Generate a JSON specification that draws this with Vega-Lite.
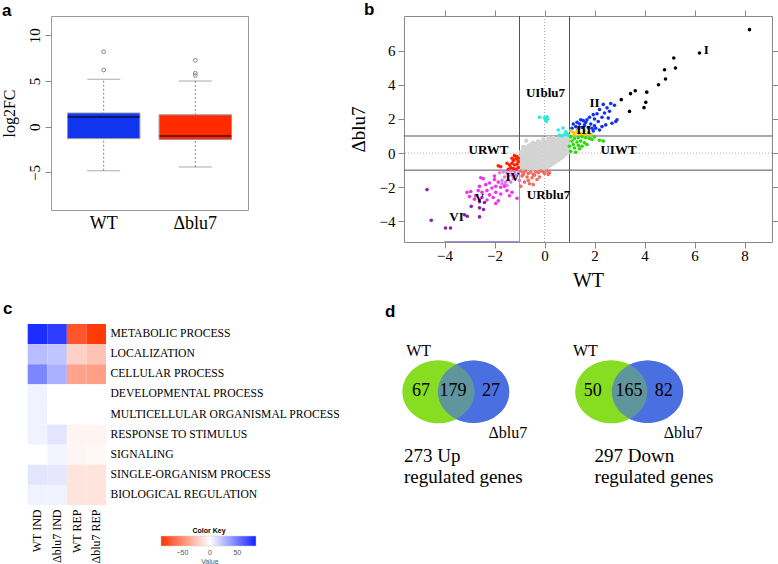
{
"$schema": "https://vega.github.io/schema/vega-lite/v6.json",
"background": "white",
"padding": {"left": 0, "top": 0, "right": 0, "bottom": 0},
"config": {
  "font": "Liberation Serif",
  "view": {"stroke": null},
  "axis": {"labelFont": "Liberation Serif", "titleFont": "Liberation Serif", "labelColor": "black", "titleColor": "black", "titleFontWeight": "normal", "grid": false, "domain": false, "tickColor": "#888888", "labelFlush": false, "labelOverlap": false},
  "title": {"font": "Liberation Sans", "fontWeight": "bold", "fontSize": 17, "anchor": "start", "frame": "group", "baseline": "alphabetic", "offset": 0, "color": "black"}
},
"resolve": {"scale": {"color": "independent"}, "legend": {"color": "independent"}},
"bounds": "flush",
"columns": 2,
"spacing": {"row": 82, "column": 156},
"concat": [
 {
  "width": 197, "height": 194,
  "view": {"stroke": "#999999"},
  "title": {"text": "a", "dx": -49, "dy": 8},
  "data": {"values": [
    {"group": "WT", "lower": -4.8, "q1": -1.3, "median": 1.05, "q3": 1.5, "upper": 5.2},
    {"group": "Δblu7", "lower": -4.4, "q1": -1.4, "median": -1.0, "q3": 1.3, "upper": 5.0}
  ]},
  "encoding": {
    "x": {"field": "group", "type": "nominal", "sort": ["WT", "Δblu7"], "scale": {"paddingInner": 0.21, "paddingOuter": 0.18}, "axis": {"title": null, "labelAngle": 0, "labelFontSize": 18, "ticks": false, "labelPadding": 4}}
  },
  "layer": [
    {"mark": {"type": "rule", "color": "#888888", "strokeDash": [2, 2], "strokeWidth": 1},
     "encoding": {"y": {"field": "lower", "type": "quantitative", "scale": {"domain": [-9.1, 12.1], "nice": false, "zero": false}, "axis": {"title": "log2FC", "values": [-5, 0, 5, 10], "labelAngle": 270, "labelFontSize": 15, "tickSize": 6, "labelPadding": 3, "titleFontSize": 16, "titlePadding": 10}}, "y2": {"field": "upper"}}},
    {"mark": {"type": "bar", "stroke": "#999999", "strokeWidth": 1},
     "encoding": {"y": {"field": "q1", "type": "quantitative"}, "y2": {"field": "q3"}, "color": {"field": "group", "type": "nominal", "scale": {"domain": ["WT", "Δblu7"], "range": ["#1236f0", "#ff2a00"]}, "legend": null}}},
    {"mark": {"type": "tick", "color": "#888888", "size": 33, "thickness": 1}, "encoding": {"y": {"field": "upper", "type": "quantitative"}}},
    {"mark": {"type": "tick", "color": "#888888", "size": 33, "thickness": 1}, "encoding": {"y": {"field": "lower", "type": "quantitative"}}},
    {"mark": {"type": "tick", "color": "black", "size": 72, "thickness": 1.5}, "encoding": {"y": {"field": "median", "type": "quantitative"}}},
    {"data": {"values": [
       {"group": "WT", "log2FC": 8.2}, {"group": "WT", "log2FC": 6.2},
       {"group": "Δblu7", "log2FC": 7.25}, {"group": "Δblu7", "log2FC": 5.85}, {"group": "Δblu7", "log2FC": 5.6}
     ]},
     "mark": {"type": "point", "shape": "circle", "color": "#888888", "size": 14, "strokeWidth": 1, "filled": false, "opacity": 1},
     "encoding": {"y": {"field": "log2FC", "type": "quantitative"}}}
  ]
 },
 {
  "width": 368, "height": 226,
  "view": {"stroke": "#888888"},
  "title": {"text": "b", "dx": -40, "dy": 13},
  "resolve": {"axis": {"x": "independent", "y": "independent"}},
  "layer": [
    {"data": {"values": [{"x": -1}, {"x": 1}]},
     "mark": {"type": "rule", "color": "#555555", "strokeWidth": 1},
     "encoding": {"x": {"field": "x", "type": "quantitative", "scale": {"domain": [-5.62, 9.1], "nice": false, "zero": false}, "axis": {"orient": "top", "values": [-4, -2, 0, 2, 4, 6, 8], "labels": false, "tickSize": 6, "title": null}}}},
    {"data": {"values": [{"x": 0}]},
     "mark": {"type": "rule", "color": "#aaaaaa", "strokeWidth": 1, "strokeDash": [1, 2]},
     "encoding": {"x": {"field": "x", "type": "quantitative", "scale": {"domain": [-5.62, 9.1], "nice": false, "zero": false}, "axis": null}}},
    {"data": {"values": [{"y": -1}, {"y": 1}]},
     "mark": {"type": "rule", "color": "#555555", "strokeWidth": 1},
     "encoding": {"y": {"field": "y", "type": "quantitative", "scale": {"domain": [-5.21, 8.03], "nice": false, "zero": false}, "axis": {"orient": "right", "values": [-4, -2, 0, 2, 4, 6], "labels": false, "tickSize": 6, "title": null}}}},
    {"data": {"values": [{"y": 0}]},
     "mark": {"type": "rule", "color": "#aaaaaa", "strokeWidth": 1, "strokeDash": [1, 2]},
     "encoding": {"y": {"field": "y", "type": "quantitative", "scale": {"domain": [-5.21, 8.03], "nice": false, "zero": false}, "axis": null}}},
    {"data": {"values": [{"x": -1, "x2": -1, "y": -1, "y2": -5.21}, {"x": -4.0, "x2": -1, "y": -5.18, "y2": -5.18}, {"x": 0.4, "x2": 1, "y": 1, "y2": 1}]},
     "mark": {"type": "rule", "color": "#a38ce6", "strokeWidth": 1},
     "encoding": {"x": {"field": "x", "type": "quantitative", "scale": {"domain": [-5.62, 9.1], "nice": false, "zero": false}, "axis": null}, "x2": {"field": "x2"},
                  "y": {"field": "y", "type": "quantitative", "scale": {"domain": [-5.21, 8.03], "nice": false, "zero": false}, "axis": null}, "y2": {"field": "y2"}}},
    {"data": {"values": [
{"x":-0.95,"y":-0.95,"g":"ns"},{"x":-0.95,"y":-0.7,"g":"ns"},{"x":-0.95,"y":-0.45,"g":"ns"},{"x":-0.95,"y":-0.2,"g":"ns"},{"x":-0.95,"y":0.05,"g":"ns"},
{"x":-0.85,"y":-0.85,"g":"ns"},{"x":-0.85,"y":-0.6,"g":"ns"},{"x":-0.85,"y":-0.35,"g":"ns"},{"x":-0.85,"y":-0.1,"g":"ns"},{"x":-0.85,"y":0.15,"g":"ns"},{"x":-0.85,"y":0.35,"g":"ns"},
{"x":-0.75,"y":-0.95,"g":"ns"},{"x":-0.75,"y":-0.7,"g":"ns"},{"x":-0.75,"y":-0.45,"g":"ns"},{"x":-0.75,"y":-0.2,"g":"ns"},{"x":-0.75,"y":0.05,"g":"ns"},{"x":-0.75,"y":0.3,"g":"ns"},{"x":-0.73,"y":0.72,"g":"ns"},
{"x":-0.65,"y":-0.85,"g":"ns"},{"x":-0.65,"y":-0.6,"g":"ns"},{"x":-0.65,"y":-0.35,"g":"ns"},{"x":-0.65,"y":-0.1,"g":"ns"},{"x":-0.65,"y":0.15,"g":"ns"},{"x":-0.65,"y":0.4,"g":"ns"},
{"x":-0.55,"y":-0.95,"g":"ns"},{"x":-0.55,"y":-0.7,"g":"ns"},{"x":-0.55,"y":-0.45,"g":"ns"},{"x":-0.55,"y":-0.2,"g":"ns"},{"x":-0.55,"y":0.05,"g":"ns"},{"x":-0.55,"y":0.3,"g":"ns"},{"x":-0.55,"y":0.5,"g":"ns"},
{"x":-0.45,"y":-0.85,"g":"ns"},{"x":-0.45,"y":-0.6,"g":"ns"},{"x":-0.45,"y":-0.35,"g":"ns"},{"x":-0.45,"y":-0.1,"g":"ns"},{"x":-0.45,"y":0.15,"g":"ns"},{"x":-0.45,"y":0.4,"g":"ns"},{"x":-0.45,"y":0.6,"g":"ns"},
{"x":-0.35,"y":-0.95,"g":"ns"},{"x":-0.35,"y":-0.7,"g":"ns"},{"x":-0.35,"y":-0.45,"g":"ns"},{"x":-0.35,"y":-0.2,"g":"ns"},{"x":-0.35,"y":0.05,"g":"ns"},{"x":-0.35,"y":0.3,"g":"ns"},{"x":-0.35,"y":0.55,"g":"ns"},
{"x":-0.25,"y":-0.8,"g":"ns"},{"x":-0.25,"y":-0.55,"g":"ns"},{"x":-0.25,"y":-0.3,"g":"ns"},{"x":-0.25,"y":-0.05,"g":"ns"},{"x":-0.25,"y":0.2,"g":"ns"},{"x":-0.25,"y":0.45,"g":"ns"},{"x":-0.25,"y":0.7,"g":"ns"},
{"x":-0.15,"y":-0.9,"g":"ns"},{"x":-0.15,"y":-0.65,"g":"ns"},{"x":-0.15,"y":-0.4,"g":"ns"},{"x":-0.15,"y":-0.15,"g":"ns"},{"x":-0.15,"y":0.1,"g":"ns"},{"x":-0.15,"y":0.35,"g":"ns"},{"x":-0.15,"y":0.6,"g":"ns"},
{"x":-0.05,"y":-0.95,"g":"ns"},{"x":-0.05,"y":-0.7,"g":"ns"},{"x":-0.05,"y":-0.45,"g":"ns"},{"x":-0.05,"y":-0.2,"g":"ns"},{"x":-0.05,"y":0.05,"g":"ns"},{"x":-0.05,"y":0.3,"g":"ns"},{"x":-0.05,"y":0.55,"g":"ns"},{"x":-0.05,"y":0.8,"g":"ns"},
{"x":0.05,"y":-0.85,"g":"ns"},{"x":0.05,"y":-0.6,"g":"ns"},{"x":0.05,"y":-0.35,"g":"ns"},{"x":0.05,"y":-0.1,"g":"ns"},{"x":0.05,"y":0.15,"g":"ns"},{"x":0.05,"y":0.4,"g":"ns"},{"x":0.05,"y":0.65,"g":"ns"},
{"x":0.15,"y":-0.8,"g":"ns"},{"x":0.15,"y":-0.55,"g":"ns"},{"x":0.15,"y":-0.3,"g":"ns"},{"x":0.15,"y":-0.05,"g":"ns"},{"x":0.15,"y":0.2,"g":"ns"},{"x":0.15,"y":0.45,"g":"ns"},{"x":0.15,"y":0.7,"g":"ns"},{"x":0.15,"y":0.9,"g":"ns"},
{"x":0.25,"y":-0.7,"g":"ns"},{"x":0.25,"y":-0.45,"g":"ns"},{"x":0.25,"y":-0.2,"g":"ns"},{"x":0.25,"y":0.05,"g":"ns"},{"x":0.25,"y":0.3,"g":"ns"},{"x":0.25,"y":0.55,"g":"ns"},{"x":0.25,"y":0.8,"g":"ns"},
{"x":0.35,"y":-0.6,"g":"ns"},{"x":0.35,"y":-0.35,"g":"ns"},{"x":0.35,"y":-0.1,"g":"ns"},{"x":0.35,"y":0.15,"g":"ns"},{"x":0.35,"y":0.4,"g":"ns"},{"x":0.35,"y":0.65,"g":"ns"},{"x":0.35,"y":0.9,"g":"ns"},
{"x":0.45,"y":-0.5,"g":"ns"},{"x":0.45,"y":-0.25,"g":"ns"},{"x":0.45,"y":0.0,"g":"ns"},{"x":0.45,"y":0.25,"g":"ns"},{"x":0.45,"y":0.5,"g":"ns"},{"x":0.45,"y":0.75,"g":"ns"},
{"x":0.55,"y":-0.4,"g":"ns"},{"x":0.55,"y":-0.15,"g":"ns"},{"x":0.55,"y":0.1,"g":"ns"},{"x":0.55,"y":0.35,"g":"ns"},{"x":0.55,"y":0.6,"g":"ns"},{"x":0.55,"y":0.85,"g":"ns"},
{"x":0.65,"y":-0.3,"g":"ns"},{"x":0.65,"y":-0.05,"g":"ns"},{"x":0.65,"y":0.2,"g":"ns"},{"x":0.65,"y":0.45,"g":"ns"},{"x":0.65,"y":0.7,"g":"ns"},{"x":0.65,"y":0.95,"g":"ns"},
{"x":0.75,"y":-0.2,"g":"ns"},{"x":0.75,"y":0.05,"g":"ns"},{"x":0.75,"y":0.3,"g":"ns"},{"x":0.75,"y":0.55,"g":"ns"},{"x":0.75,"y":0.8,"g":"ns"},
{"x":0.85,"y":-0.05,"g":"ns"},{"x":0.85,"y":0.2,"g":"ns"},{"x":0.85,"y":0.45,"g":"ns"},{"x":0.85,"y":0.7,"g":"ns"},{"x":0.85,"y":0.95,"g":"ns"},
{"x":0.95,"y":0.05,"g":"ns"},{"x":0.95,"y":0.3,"g":"ns"},{"x":0.95,"y":0.55,"g":"ns"},{"x":0.95,"y":0.8,"g":"ns"},
{"x":8.2,"y":7.23,"g":"I"},{"x":6.2,"y":5.86,"g":"I"},{"x":5.17,"y":5.57,"g":"I"},{"x":5.24,"y":4.98,"g":"I"},{"x":4.8,"y":4.88,"g":"I"},{"x":4.84,"y":4.34,"g":"I"},{"x":4.56,"y":4.0,"g":"I"},{"x":4.09,"y":3.57,"g":"I"},{"x":3.63,"y":3.65,"g":"I"},{"x":3.44,"y":3.48,"g":"I"},{"x":4.05,"y":2.97,"g":"I"},{"x":3.98,"y":2.66,"g":"I"},{"x":3.4,"y":2.44,"g":"I"},{"x":3.07,"y":3.13,"g":"I"},
{"x":2.35,"y":2.85,"g":"II"},{"x":2.65,"y":2.9,"g":"II"},{"x":2.8,"y":2.8,"g":"II"},{"x":2.5,"y":2.65,"g":"II"},{"x":2.6,"y":2.45,"g":"II"},{"x":2.2,"y":2.55,"g":"II"},{"x":2.4,"y":2.35,"g":"II"},{"x":2.85,"y":1.85,"g":"II"},{"x":2.7,"y":1.75,"g":"II"},{"x":2.9,"y":1.95,"g":"II"},{"x":2.1,"y":2.3,"g":"II"},{"x":2.3,"y":2.1,"g":"II"},{"x":1.95,"y":2.25,"g":"II"},{"x":2.0,"y":2.0,"g":"II"},{"x":1.8,"y":2.1,"g":"II"},{"x":1.7,"y":1.95,"g":"II"},{"x":2.15,"y":1.85,"g":"II"},{"x":1.55,"y":1.9,"g":"II"},{"x":1.3,"y":1.8,"g":"II"},{"x":1.15,"y":1.7,"g":"II"},{"x":1.4,"y":1.7,"g":"II"},{"x":1.6,"y":1.65,"g":"II"},{"x":1.85,"y":1.7,"g":"II"},{"x":2.0,"y":1.6,"g":"II"},{"x":2.3,"y":1.55,"g":"II"},{"x":1.25,"y":1.55,"g":"II"},{"x":1.5,"y":1.5,"g":"II"},{"x":1.75,"y":1.5,"g":"II"},{"x":2.05,"y":1.45,"g":"II"},{"x":2.2,"y":1.35,"g":"II"},{"x":1.1,"y":1.45,"g":"II"},{"x":1.35,"y":1.4,"g":"II"},{"x":1.95,"y":1.3,"g":"II"},{"x":2.45,"y":1.65,"g":"II"},{"x":2.55,"y":2.05,"g":"II"},{"x":1.65,"y":1.8,"g":"II"},{"x":1.45,"y":1.95,"g":"II"},{"x":1.9,"y":1.45,"g":"II"},
{"x":1.15,"y":1.2,"g":"III"},{"x":1.3,"y":1.25,"g":"III"},{"x":1.45,"y":1.15,"g":"III"},{"x":1.6,"y":1.3,"g":"III"},{"x":1.75,"y":1.2,"g":"III"},{"x":1.2,"y":1.05,"g":"III"},{"x":1.4,"y":1.05,"g":"III"},{"x":1.55,"y":1.1,"g":"III"},{"x":1.85,"y":1.1,"g":"III"},{"x":1.35,"y":1.35,"g":"III"},{"x":1.65,"y":1.05,"g":"III"},{"x":1.05,"y":1.3,"g":"III"},
{"x":1.05,"y":0.95,"g":"UIWT"},{"x":1.2,"y":0.85,"g":"UIWT"},{"x":1.35,"y":0.9,"g":"UIWT"},{"x":1.5,"y":0.95,"g":"UIWT"},{"x":1.65,"y":0.9,"g":"UIWT"},{"x":1.8,"y":0.85,"g":"UIWT"},{"x":2.0,"y":0.95,"g":"UIWT"},{"x":2.2,"y":0.75,"g":"UIWT"},{"x":2.35,"y":0.7,"g":"UIWT"},{"x":1.1,"y":0.7,"g":"UIWT"},{"x":1.3,"y":0.65,"g":"UIWT"},{"x":1.45,"y":0.7,"g":"UIWT"},{"x":1.6,"y":0.6,"g":"UIWT"},{"x":1.15,"y":0.5,"g":"UIWT"},{"x":1.35,"y":0.45,"g":"UIWT"},{"x":1.5,"y":0.4,"g":"UIWT"},{"x":1.2,"y":0.3,"g":"UIWT"},{"x":1.4,"y":0.25,"g":"UIWT"},{"x":1.05,"y":0.1,"g":"UIWT"},{"x":1.25,"y":0.05,"g":"UIWT"},{"x":1.0,"y":0.4,"g":"UIWT"},{"x":1.7,"y":0.5,"g":"UIWT"},{"x":1.9,"y":0.8,"g":"UIWT"},
{"x":-0.2,"y":2.1,"g":"UIblu7"},{"x":0.0,"y":2.06,"g":"UIblu7"},{"x":0.07,"y":1.86,"g":"UIblu7"},{"x":0.12,"y":2.0,"g":"UIblu7"},{"x":0.05,"y":1.95,"g":"UIblu7"},{"x":0.1,"y":2.12,"g":"UIblu7"},{"x":0.74,"y":1.47,"g":"UIblu7"},{"x":0.8,"y":1.08,"g":"UIblu7"},{"x":0.9,"y":1.15,"g":"UIblu7"},{"x":0.95,"y":1.05,"g":"UIblu7"},{"x":0.7,"y":1.0,"g":"UIblu7"},{"x":0.6,"y":1.05,"g":"UIblu7"},{"x":0.85,"y":1.25,"g":"UIblu7"},{"x":0.55,"y":1.35,"g":"UIblu7"},
{"x":-1.45,"y":-0.95,"g":"URWT"},{"x":-1.35,"y":-0.85,"g":"URWT"},{"x":-1.25,"y":-0.9,"g":"URWT"},{"x":-1.15,"y":-0.95,"g":"URWT"},{"x":-1.05,"y":-0.85,"g":"URWT"},{"x":-1.4,"y":-0.7,"g":"URWT"},{"x":-1.3,"y":-0.6,"g":"URWT"},{"x":-1.2,"y":-0.7,"g":"URWT"},{"x":-1.1,"y":-0.65,"g":"URWT"},{"x":-1.05,"y":-0.5,"g":"URWT"},{"x":-1.25,"y":-0.45,"g":"URWT"},{"x":-1.15,"y":-0.35,"g":"URWT"},{"x":-1.1,"y":-0.2,"g":"URWT"},{"x":-1.2,"y":-0.15,"g":"URWT"},{"x":-1.5,"y":-0.6,"g":"URWT"},{"x":-1.85,"y":-0.75,"g":"URWT"},{"x":-1.75,"y":-0.8,"g":"URWT"},{"x":-1.35,"y":-1.0,"g":"URWT"},{"x":-1.05,"y":-0.3,"g":"URWT"},{"x":-1.3,"y":-0.3,"g":"URWT"},
{"x":-0.95,"y":-1.05,"g":"URblu7"},{"x":-0.85,"y":-1.15,"g":"URblu7"},{"x":-0.75,"y":-1.05,"g":"URblu7"},{"x":-0.65,"y":-1.2,"g":"URblu7"},{"x":-0.55,"y":-1.1,"g":"URblu7"},{"x":-0.45,"y":-1.25,"g":"URblu7"},{"x":-0.35,"y":-1.1,"g":"URblu7"},{"x":-0.25,"y":-1.15,"g":"URblu7"},{"x":-0.15,"y":-1.05,"g":"URblu7"},{"x":-0.05,"y":-1.1,"g":"URblu7"},{"x":0.1,"y":-1.05,"g":"URblu7"},{"x":0.2,"y":-1.15,"g":"URblu7"},{"x":-0.9,"y":-1.35,"g":"URblu7"},{"x":-0.7,"y":-1.4,"g":"URblu7"},{"x":-0.5,"y":-1.45,"g":"URblu7"},{"x":-0.3,"y":-1.55,"g":"URblu7"},{"x":-0.6,"y":-1.8,"g":"URblu7"},{"x":-0.8,"y":-1.7,"g":"URblu7"},{"x":-0.45,"y":-1.85,"g":"URblu7"},{"x":-0.95,"y":-1.95,"g":"URblu7"},{"x":-0.2,"y":-1.4,"g":"URblu7"},{"x":-0.65,"y":-1.6,"g":"URblu7"},{"x":-0.85,"y":-1.25,"g":"URblu7"},{"x":-0.4,"y":-1.3,"g":"URblu7"},{"x":0.0,"y":-1.2,"g":"URblu7"},{"x":0.15,"y":-1.25,"g":"URblu7"},
{"x":-1.2,"y":-1.1,"g":"IV"},{"x":-1.35,"y":-1.05,"g":"IV"},{"x":-1.5,"y":-1.15,"g":"IV"},{"x":-1.65,"y":-1.1,"g":"IV"},{"x":-1.8,"y":-1.15,"g":"IV"},{"x":-1.3,"y":-1.3,"g":"IV"},{"x":-1.45,"y":-1.35,"g":"IV"},{"x":-1.6,"y":-1.4,"g":"IV"},{"x":-1.7,"y":-1.6,"g":"IV"},{"x":-1.55,"y":-1.7,"g":"IV"},{"x":-1.6,"y":-1.85,"g":"IV"},{"x":-1.45,"y":-1.55,"g":"IV"},{"x":-1.25,"y":-1.5,"g":"IV"},{"x":-1.15,"y":-1.3,"g":"IV"},{"x":-1.05,"y":-1.15,"g":"IV"},{"x":-1.7,"y":-1.8,"g":"IV"},{"x":-1.5,"y":-1.9,"g":"IV"},{"x":-1.35,"y":-1.7,"g":"IV"},{"x":-1.0,"y":-1.6,"g":"IV"},
{"x":-2.0,"y":-1.35,"g":"V"},{"x":-2.55,"y":-1.45,"g":"V"},{"x":-2.45,"y":-1.5,"g":"V"},{"x":-2.0,"y":-1.55,"g":"V"},{"x":-1.85,"y":-1.7,"g":"V"},{"x":-2.2,"y":-1.75,"g":"V"},{"x":-2.35,"y":-1.85,"g":"V"},{"x":-2.6,"y":-1.95,"g":"V"},{"x":-1.95,"y":-1.95,"g":"V"},{"x":-1.75,"y":-2.0,"g":"V"},{"x":-2.1,"y":-2.05,"g":"V"},{"x":-2.95,"y":-2.25,"g":"V"},{"x":-3.1,"y":-2.3,"g":"V"},{"x":-2.5,"y":-2.3,"g":"V"},{"x":-2.3,"y":-2.2,"g":"V"},{"x":-1.95,"y":-2.3,"g":"V"},{"x":-1.75,"y":-2.4,"g":"V"},{"x":-2.2,"y":-2.45,"g":"V"},{"x":-2.75,"y":-2.5,"g":"V"},{"x":-3.0,"y":-2.55,"g":"V"},{"x":-2.5,"y":-2.6,"g":"V"},{"x":-2.05,"y":-2.6,"g":"V"},{"x":-1.85,"y":-2.8,"g":"V"},{"x":-2.3,"y":-2.75,"g":"V"},{"x":-1.95,"y":-2.95,"g":"V"},{"x":-1.1,"y":-2.65,"g":"V"},{"x":-1.3,"y":-2.3,"g":"V"},{"x":-1.5,"y":-2.2,"g":"V"},{"x":-1.6,"y":-1.95,"g":"V"},{"x":-2.65,"y":-2.2,"g":"V"},{"x":-2.8,"y":-2.7,"g":"V"},{"x":-1.4,"y":-2.5,"g":"V"},
{"x":-4.7,"y":-2.14,"g":"VI"},{"x":-4.53,"y":-3.94,"g":"VI"},{"x":-3.96,"y":-4.39,"g":"VI"},{"x":-3.76,"y":-4.39,"g":"VI"},{"x":-3.2,"y":-3.61,"g":"VI"},{"x":-3.09,"y":-3.7,"g":"VI"},{"x":-2.93,"y":-3.12,"g":"VI"},{"x":-2.6,"y":-3.21,"g":"VI"},{"x":-2.44,"y":-3.31,"g":"VI"},{"x":-2.6,"y":-3.74,"g":"VI"},{"x":-2.6,"y":-2.85,"g":"VI"},{"x":-2.4,"y":-2.9,"g":"VI"}
     ]},
     "mark": {"type": "point", "shape": "circle", "filled": true, "opacity": 1, "strokeWidth": 0},
     "encoding": {
       "x": {"field": "x", "type": "quantitative", "scale": {"domain": [-5.62, 9.1], "nice": false, "zero": false}, "axis": {"orient": "bottom", "values": [-4, -2, 0, 2, 4, 6, 8], "labelFontSize": 15, "tickSize": 6, "labelPadding": 0, "title": "WT", "titleFontSize": 20, "titlePadding": 7}},
       "y": {"field": "y", "type": "quantitative", "scale": {"domain": [-5.21, 8.03], "nice": false, "zero": false}, "axis": {"orient": "left", "values": [-4, -2, 0, 2, 4, 6], "labelFontSize": 15, "tickSize": 6, "labelPadding": 3, "title": "Δblu7", "titleFontSize": 19, "titlePadding": 11}},
       "size": {"condition": {"test": "datum.g == 'ns'", "value": 20}, "value": 13},
       "color": {"field": "g", "type": "nominal", "scale": {"domain": ["ns", "I", "II", "III", "UIWT", "UIblu7", "URWT", "URblu7", "IV", "V", "VI"], "range": ["#d3d3d3", "#000000", "#1133ee", "#ffc400", "#22dd00", "#22eedd", "#ff2200", "#f26a5a", "#e07ae8", "#ee33ee", "#8822aa"]}, "legend": null}
     }},
    {"data": {"values": [
       {"label": "I", "x": 6.47, "y": 6.05}, {"label": "II", "x": 2.0, "y": 2.93}, {"label": "III", "x": 1.57, "y": 1.33},
       {"label": "UIblu7", "x": 0.04, "y": 3.52}, {"label": "URWT", "x": -2.24, "y": 0.2}, {"label": "UIWT", "x": 2.96, "y": 0.2},
       {"label": "IV", "x": -1.27, "y": -1.41}, {"label": "URblu7", "x": 0.16, "y": -2.44}, {"label": "V", "x": -2.6, "y": -2.64}, {"label": "VI", "x": -3.52, "y": -3.77}
     ]},
     "mark": {"type": "text", "font": "Liberation Serif", "fontWeight": "bold", "fontSize": 13, "color": "black", "align": "center", "baseline": "middle"},
     "encoding": {
       "x": {"field": "x", "type": "quantitative", "scale": {"domain": [-5.62, 9.1], "nice": false, "zero": false}, "axis": null},
       "y": {"field": "y", "type": "quantitative", "scale": {"domain": [-5.21, 8.03], "nice": false, "zero": false}, "axis": null},
       "text": {"field": "label"}
     }}
  ]
 },
 {
  "width": 55, "height": 181,
  "title": {"text": "c", "dx": -48, "dy": -2},
  "data": {"values": [
    {"term": "METABOLIC PROCESS", "sample": "WT IND", "value": 80}, {"term": "METABOLIC PROCESS", "sample": "Δblu7 IND", "value": 74}, {"term": "METABOLIC PROCESS", "sample": "WT REP", "value": -74}, {"term": "METABOLIC PROCESS", "sample": "Δblu7 REP", "value": -86},
    {"term": "LOCALIZATION", "sample": "WT IND", "value": 25}, {"term": "LOCALIZATION", "sample": "Δblu7 IND", "value": 22}, {"term": "LOCALIZATION", "sample": "WT REP", "value": -20}, {"term": "LOCALIZATION", "sample": "Δblu7 REP", "value": -26},
    {"term": "CELLULAR PROCESS", "sample": "WT IND", "value": 46}, {"term": "CELLULAR PROCESS", "sample": "Δblu7 IND", "value": 30}, {"term": "CELLULAR PROCESS", "sample": "WT REP", "value": -40}, {"term": "CELLULAR PROCESS", "sample": "Δblu7 REP", "value": -42},
    {"term": "DEVELOPMENTAL PROCESS", "sample": "WT IND", "value": 5}, {"term": "DEVELOPMENTAL PROCESS", "sample": "Δblu7 IND", "value": 0}, {"term": "DEVELOPMENTAL PROCESS", "sample": "WT REP", "value": 0}, {"term": "DEVELOPMENTAL PROCESS", "sample": "Δblu7 REP", "value": 0},
    {"term": "MULTICELLULAR ORGANISMAL PROCESS", "sample": "WT IND", "value": 5}, {"term": "MULTICELLULAR ORGANISMAL PROCESS", "sample": "Δblu7 IND", "value": 0}, {"term": "MULTICELLULAR ORGANISMAL PROCESS", "sample": "WT REP", "value": 0}, {"term": "MULTICELLULAR ORGANISMAL PROCESS", "sample": "Δblu7 REP", "value": 0},
    {"term": "RESPONSE TO STIMULUS", "sample": "WT IND", "value": 5}, {"term": "RESPONSE TO STIMULUS", "sample": "Δblu7 IND", "value": 10}, {"term": "RESPONSE TO STIMULUS", "sample": "WT REP", "value": -5}, {"term": "RESPONSE TO STIMULUS", "sample": "Δblu7 REP", "value": -5},
    {"term": "SIGNALING", "sample": "WT IND", "value": 0}, {"term": "SIGNALING", "sample": "Δblu7 IND", "value": 4}, {"term": "SIGNALING", "sample": "WT REP", "value": -4}, {"term": "SIGNALING", "sample": "Δblu7 REP", "value": -3},
    {"term": "SINGLE-ORGANISM PROCESS", "sample": "WT IND", "value": 10}, {"term": "SINGLE-ORGANISM PROCESS", "sample": "Δblu7 IND", "value": 9}, {"term": "SINGLE-ORGANISM PROCESS", "sample": "WT REP", "value": -12}, {"term": "SINGLE-ORGANISM PROCESS", "sample": "Δblu7 REP", "value": -12},
    {"term": "BIOLOGICAL REGULATION", "sample": "WT IND", "value": 5}, {"term": "BIOLOGICAL REGULATION", "sample": "Δblu7 IND", "value": 5}, {"term": "BIOLOGICAL REGULATION", "sample": "WT REP", "value": -12}, {"term": "BIOLOGICAL REGULATION", "sample": "Δblu7 REP", "value": -12}
  ]},
  "mark": {"type": "rect"},
  "encoding": {
    "x": {"field": "sample", "type": "nominal", "sort": ["WT IND", "Δblu7 IND", "WT REP", "Δblu7 REP"], "scale": {"range": [-23.3, 55], "paddingInner": 0, "paddingOuter": 0}, "axis": {"orient": "bottom", "title": null, "labelAngle": 270, "ticks": false, "labelFontSize": 12, "labelPadding": 4, "labelLimit": 300}},
    "y": {"field": "term", "type": "nominal", "sort": ["METABOLIC PROCESS", "LOCALIZATION", "CELLULAR PROCESS", "DEVELOPMENTAL PROCESS", "MULTICELLULAR ORGANISMAL PROCESS", "RESPONSE TO STIMULUS", "SIGNALING", "SINGLE-ORGANISM PROCESS", "BIOLOGICAL REGULATION"], "scale": {"paddingInner": 0, "paddingOuter": 0}, "axis": {"orient": "right", "title": null, "ticks": false, "labelFontSize": 11.6, "labelPadding": 4, "labelLimit": 400}},
    "color": {"field": "value", "type": "quantitative", "scale": {"domain": [-89, 84], "domainMid": 0, "range": ["#ff3300", "#ffffff", "#1122ff"], "interpolate": "rgb"},
      "legend": {"orient": "none", "legendX": 110, "legendY": 203, "direction": "horizontal", "gradientLength": 95, "gradientThickness": 10, "title": "Color Key", "titleFont": "Liberation Sans", "titleFontSize": 7, "titleFontWeight": "bold", "titleAnchor": "middle", "titlePadding": 2, "labelFont": "Liberation Sans", "labelFontSize": 7, "labelColor": "#555555", "values": [-50, 0, 50], "labelExpr": "datum.value == 0 ? ['0', 'Value'] : datum.label", "labelOffset": 3, "gradientStrokeColor": "#cccccc", "gradientStrokeWidth": 0.5}}
  }
 },
 {
  "width": 307, "height": 160,
  "title": {"text": "d", "dx": -19, "dy": 1},
  "layer": [
    {"data": {"values": [{"venn": "Up", "set": "Δblu7", "x": 0.99, "y": 0}, {"venn": "Down", "set": "Δblu7", "x": 5.89, "y": 0}]},
     "mark": {"type": "point", "shape": "M-1,0C-1,-0.4833,-0.5523,-0.875,0,-0.875C0.5523,-0.875,1,-0.4833,1,0C1,0.4833,0.5523,0.875,0,0.875C-0.5523,0.875,-1,0.4833,-1,0Z", "filled": true, "size": 5100, "color": "#4a6fe0", "opacity": 1, "strokeWidth": 0},
     "encoding": {"x": {"field": "x", "type": "quantitative", "scale": {"domain": [-0.97, 7.68], "nice": false, "zero": false}, "axis": null}, "y": {"field": "y", "type": "quantitative", "scale": {"domain": [-2.6, 1.91], "nice": false, "zero": false}, "axis": null}}},
    {"data": {"values": [{"venn": "Up", "set": "WT", "x": 0.0, "y": 0}, {"venn": "Down", "set": "WT", "x": 4.87, "y": 0}]},
     "mark": {"type": "point", "shape": "M-1,0C-1,-0.4833,-0.5523,-0.875,0,-0.875C0.5523,-0.875,1,-0.4833,1,0C1,0.4833,0.5523,0.875,0,0.875C-0.5523,0.875,-1,0.4833,-1,0Z", "filled": true, "size": 5200, "color": "#86dd22", "opacity": 1, "strokeWidth": 0},
     "encoding": {"x": {"field": "x", "type": "quantitative", "axis": null}, "y": {"field": "y", "type": "quantitative", "axis": null}}},
    {"data": {"values": [{"venn": "Up", "set": "Δblu7", "x": 0.99, "y": 0}, {"venn": "Down", "set": "Δblu7", "x": 5.89, "y": 0}]},
     "mark": {"type": "point", "shape": "M-1,0C-1,-0.4833,-0.5523,-0.875,0,-0.875C0.5523,-0.875,1,-0.4833,1,0C1,0.4833,0.5523,0.875,0,0.875C-0.5523,0.875,-1,0.4833,-1,0Z", "filled": true, "size": 5100, "color": "#4a6fe0", "opacity": 0.65, "strokeWidth": 0},
     "encoding": {"x": {"field": "x", "type": "quantitative", "axis": null}, "y": {"field": "y", "type": "quantitative", "axis": null}}},
    {"data": {"values": [
       {"venn": "Up", "region": "WT only", "count": 67, "x": -0.49, "y": 0.01}, {"venn": "Up", "region": "both", "count": 179, "x": 0.41, "y": 0.01}, {"venn": "Up", "region": "Δblu7 only", "count": 27, "x": 1.48, "y": 0.01},
       {"venn": "Down", "region": "WT only", "count": 50, "x": 4.35, "y": 0.01}, {"venn": "Down", "region": "both", "count": 165, "x": 5.37, "y": 0.01}, {"venn": "Down", "region": "Δblu7 only", "count": 82, "x": 6.35, "y": 0.01}
     ]},
     "mark": {"type": "text", "font": "Liberation Serif", "fontSize": 18, "color": "black", "align": "center", "baseline": "middle"},
     "encoding": {"x": {"field": "x", "type": "quantitative", "axis": null}, "y": {"field": "y", "type": "quantitative", "axis": null}, "text": {"field": "count"}}},
    {"data": {"values": [
       {"label": "WT", "x": -0.91, "y": 1.01}, {"label": "Δblu7", "x": 1.41, "y": -1.3},
       {"label": "WT", "x": 3.79, "y": 1.01}, {"label": "Δblu7", "x": 6.35, "y": -1.3}
     ]},
     "mark": {"type": "text", "font": "Liberation Serif", "fontSize": 16, "color": "black", "align": "left", "baseline": "alphabetic"},
     "encoding": {"x": {"field": "x", "type": "quantitative", "axis": null}, "y": {"field": "y", "type": "quantitative", "axis": null}, "text": {"field": "label"}}},
    {"data": {"values": [
       {"label": "273 Up", "x": -0.97, "y": -1.99}, {"label": "regulated genes", "x": -0.97, "y": -2.57},
       {"label": "297 Down", "x": 4.4, "y": -1.99}, {"label": "regulated genes", "x": 4.4, "y": -2.57}
     ]},
     "mark": {"type": "text", "font": "Liberation Serif", "fontSize": 19, "color": "black", "align": "left", "baseline": "alphabetic"},
     "encoding": {"x": {"field": "x", "type": "quantitative", "axis": null}, "y": {"field": "y", "type": "quantitative", "axis": null}, "text": {"field": "label"}}}
  ]
 }
]
}
